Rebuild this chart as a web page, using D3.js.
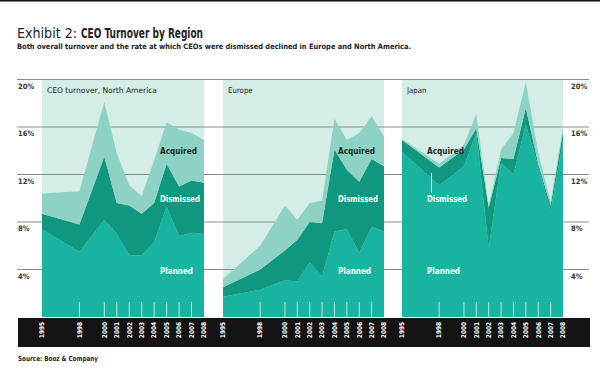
<!DOCTYPE html>
<html>
<head>
<meta charset="utf-8">
<script src="https://cdn.jsdelivr.net/npm/d3@7/dist/d3.min.js"></script>
<style>
  body { margin: 0; background: #fff; }
  svg { display: block; font-family: "DejaVu Sans Condensed", "Liberation Sans Narrow", "DejaVu Sans", sans-serif; }
</style>
</head>
<body>
<svg id="svg_turnover" width="600" height="372"></svg>
<script>
// CEO turnover by region, share of CEOs leaving (%), stacked

const years = [1995, 1998, 2000, 2001, 2002, 2003, 2004, 2005, 2006, 2007, 2008];
const yearLabels = ['1995', '1998', '2000', '2001', '2002', '2003', '2004', '2005', '2006', '2007', '2008'];
const yTicks = [4, 8, 12, 16, 20];
const yTickLabels = ['4%', '8%', '12%', '16%', '20%'];
const panelTitles = ['CEO turnover, North America', 'Europe', 'Japan'];
const seriesKeys = ['Planned', 'Dismissed', 'Acquired'];

// North America
const naPlanned   = [7.4, 5.5, 8.2, 7.0, 5.2, 5.2, 6.3, 9.3, 6.8, 7.1, 7.0];
const naDismissed = [1.3, 2.3, 5.3, 2.6, 4.2, 3.5, 3.3, 3.6, 4.2, 4.4, 4.3];
const naAcquired  = [1.7, 2.8, 4.6, 4.2, 1.7, 1.5, 3.6, 3.5, 4.8, 4.0, 3.6];

// Europe
const euPlanned   = [1.7, 2.3, 3.1, 3.0, 4.6, 3.4, 7.2, 7.4, 5.4, 7.6, 7.2];
const euDismissed = [0.8, 1.7, 2.5, 3.5, 3.4, 4.5, 6.9, 5.0, 6.0, 5.7, 5.5];
const euAcquired  = [0.7, 2.0, 3.8, 1.7, 1.6, 1.9, 2.6, 2.5, 4.1, 3.6, 2.5];

// Japan
const jpPlanned   = [13.9, 11.1, 12.7, 15.5, 5.8, 13.0, 12.0, 16.2, 12.7, 8.9, 14.8];
const jpDismissed = [1.0, 1.5, 1.4, 0.4, 3.4, 0.4, 1.3, 1.4, 0.2, 0.5, 0.8];
const jpAcquired  = [0.1, 0.3, 0.4, 1.2, 0.2, 0.7, 2.2, 2.2, 0.9, 0.3, 0.4];

const colors = { bg: '#d4eee7', Acquired: '#8dd2c2', Dismissed: '#10977f', Planned: '#18b49f' };

// widths of the condensed lettering in the original
const labelWidths = { Acquired: 37, Dismissed: 40, Planned: 33 };

class TurnoverChart {

    constructor() {
        this.svg = d3.select('#svg_turnover');

        this.panels = [
            { title: panelTitles[0], titleW: 110,  left: 42,  right: 204, planned: naPlanned, dismissed: naDismissed, acquired: naAcquired, labelX: 160, leader: false },
            { title: panelTitles[1], titleW: null, left: 223, right: 384, planned: euPlanned, dismissed: euDismissed, acquired: euAcquired, labelX: 338, leader: false },
            { title: panelTitles[2], titleW: null, left: 402, right: 563, planned: jpPlanned, dismissed: jpDismissed, acquired: jpAcquired, labelX: 427, leader: true }
        ];

        // Y-Scale shared by all panels
        this.yScale = d3.scaleLinear()
                        .domain([0, 20])
                        .range([317, 79.5]);

        this.stack = d3.stack().keys(seriesKeys);
    }

    draw() {
        this.drawYearBand();
        this.drawHeader();
        this.panels.forEach(p => this.drawPanelBackground(p));
        this.drawGrid();
        this.panels.forEach(p => this.drawPanel(p));
        this.drawFooter();
    }

    drawHeader() {
        this.svg.append('rect')
           .attr('x', 0).attr('y', 0).attr('width', 600).attr('height', 1.5)
           .attr('fill', '#111');

        this.svg.append('text')
           .attr('x', 17).attr('y', 38)
           .attr('font-size', 13.5)
           .attr('font-weight', 300)
           .attr('fill', '#222')
           .attr('textLength', 60)
           .attr('lengthAdjust', 'spacingAndGlyphs')
           .text('Exhibit 2:');

        this.svg.append('text')
           .attr('x', 81).attr('y', 38)
           .attr('font-size', 13.5)
           .attr('font-weight', 'bold')
           .attr('fill', '#222')
           .attr('textLength', 122)
           .attr('lengthAdjust', 'spacingAndGlyphs')
           .text('CEO Turnover by Region');

        this.svg.append('text')
           .attr('x', 17).attr('y', 49)
           .attr('font-size', 7.4)
           .attr('font-weight', 'bold')
           .attr('fill', '#222')
           .attr('textLength', 394)
           .attr('lengthAdjust', 'spacingAndGlyphs')
           .text('Both overall turnover and the rate at which CEOs were dismissed declined in Europe and North America.');
    }

    drawPanelBackground(p) {
        this.svg.append('rect')
           .attr('x', p.left)
           .attr('y', this.yScale(20))
           .attr('width', p.right - p.left)
           .attr('height', this.yScale(0) - this.yScale(20))
           .attr('fill', colors.bg);
    }

    drawGrid() {
        let grid = this.svg.append('g').attr('id', 'grid');

        grid.selectAll('line')
            .data(yTicks)
            .join('line')
            .attr('x1', 17).attr('x2', 589)
            .attr('y1', d => this.yScale(d))
            .attr('y2', d => this.yScale(d))
            .attr('stroke', '#8c8c8c')
            .attr('stroke-width', 1);

        // tick labels on both sides, sitting just under each line
        [18, 571].forEach(x => {
            grid.selectAll(null)
                .data(yTicks)
                .join('text')
                .attr('x', x)
                .attr('y', d => this.yScale(d) + 9)
                .attr('font-size', 7.5)
                .attr('font-weight', 'bold')
                .attr('fill', '#333')
                .text((d, i) => yTickLabels[i]);
        });
    }

    drawPanel(p) {
        let xScale = d3.scaleLinear()
                       .domain([years[0], years[years.length - 1]])
                       .range([p.left, p.right]);

        let rows = years.map((y, i) => ({
            year: y,
            Planned: p.planned[i],
            Dismissed: p.dismissed[i],
            Acquired: p.acquired[i]
        }));
        let layers = this.stack(rows);

        let area = d3.area()
                     .x(d => xScale(d.data.year))
                     .y0(d => this.yScale(d[0]))
                     .y1(d => this.yScale(d[1]));

        let g = this.svg.append('g');

        g.selectAll('path')
         .data(layers)
         .join('path')
         .attr('fill', d => colors[d.key])
         .attr('d', area);

        // small white year ticks at the foot of the panel
        g.selectAll('line.tick')
         .data(years.slice(1, -1))
         .join('line')
         .attr('class', 'tick')
         .attr('x1', d => xScale(d)).attr('x2', d => xScale(d))
         .attr('y1', 302).attr('y2', 317)
         .attr('stroke', '#e8f7f3')
         .attr('stroke-width', 0.8);

        let title = g.append('text')
         .attr('x', p.left + 5).attr('y', 93)
         .attr('font-size', 7.8)
         .attr('fill', '#222')
         .text(p.title);
        if (p.titleW) {
            title.attr('textLength', p.titleW)
                 .attr('lengthAdjust', 'spacingAndGlyphs');
        }

        // series labels
        let labelY = { Acquired: 154, Dismissed: 202, Planned: 274 };
        seriesKeys.forEach(k => {
            g.append('text')
             .attr('x', p.labelX).attr('y', labelY[k])
             .attr('font-size', 9.5)
             .attr('font-weight', 'bold')
             .attr('fill', k === 'Acquired' ? '#1d2b28' : '#fff')
             .attr('textLength', labelWidths[k])
             .attr('lengthAdjust', 'spacingAndGlyphs')
             .text(k);
        });

        if (p.leader) {
            g.append('line')
             .attr('x1', p.labelX + 4.5).attr('x2', p.labelX + 4.5)
             .attr('y1', 173).attr('y2', 193)
             .attr('stroke', '#fff')
             .attr('stroke-width', 1);
        }

        this.drawYearLabels(xScale);
    }

    drawYearBand() {
        this.svg.append('rect')
           .attr('x', 18).attr('y', 318)
           .attr('width', 572).attr('height', 29)
           .attr('fill', '#141414');
    }

    drawYearLabels(xScale) {
        let g = this.svg.append('g');
        g.selectAll('text')
         .data(years)
         .join('text')
         .attr('transform', d => `translate(${xScale(d) + 2.3}, 330) rotate(-90)`)
         .attr('text-anchor', 'middle')
         .attr('font-size', 6.5)
         .attr('font-weight', 'bold')
         .attr('fill', '#fff')
         .text((d, i) => yearLabels[i]);
    }

    drawFooter() {
        this.svg.append('text')
           .attr('x', 18).attr('y', 361)
           .attr('font-size', 7)
           .attr('font-weight', 'bold')
           .attr('fill', '#222')
           .attr('textLength', 80)
           .attr('lengthAdjust', 'spacingAndGlyphs')
           .text('Source: Booz & Company');
    }
}

let chart = new TurnoverChart();
chart.draw();
</script>
</body>
</html>
